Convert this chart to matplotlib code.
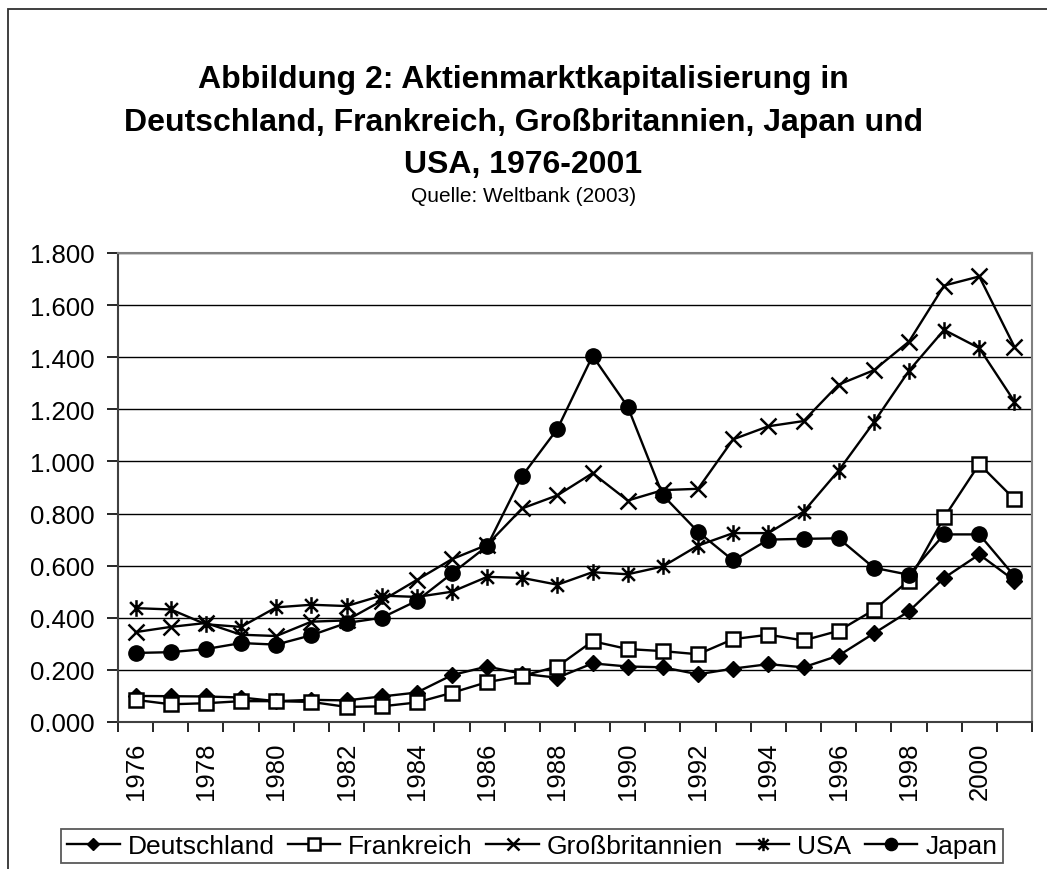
import matplotlib
matplotlib.use("Agg")
import matplotlib.pyplot as plt
import numpy as np
from matplotlib.path import Path
from matplotlib.patches import Rectangle
from matplotlib.ticker import FixedLocator, NullFormatter, FuncFormatter

plt.rcParams['font.family'] = ['Liberation Sans', 'DejaVu Sans']

years = list(range(1976, 2002))
deutschland = [0.100, 0.099, 0.098, 0.094, 0.080, 0.085, 0.083, 0.098, 0.113, 0.180,
               0.213, 0.185, 0.170, 0.225, 0.213, 0.210, 0.183, 0.205, 0.222, 0.210,
               0.255, 0.340, 0.425, 0.553, 0.643, 0.543]
frankreich = [0.085, 0.068, 0.072, 0.080, 0.080, 0.077, 0.058, 0.060, 0.075, 0.112,
              0.153, 0.177, 0.213, 0.310, 0.280, 0.272, 0.260, 0.318, 0.335, 0.313,
              0.350, 0.430, 0.543, 0.785, 0.990, 0.855]
grossbritannien = [0.345, 0.365, 0.380, 0.335, 0.330, 0.385, 0.390, 0.465, 0.545, 0.625,
                   0.680, 0.820, 0.870, 0.955, 0.850, 0.890, 0.895, 1.085, 1.135, 1.155,
                   1.295, 1.350, 1.460, 1.675, 1.710, 1.440]
usa = [0.437, 0.432, 0.375, 0.365, 0.440, 0.450, 0.445, 0.485, 0.480, 0.500,
       0.557, 0.553, 0.527, 0.575, 0.567, 0.597, 0.677, 0.725, 0.725, 0.807,
       0.965, 1.150, 1.348, 1.505, 1.435, 1.230]
japan = [0.265, 0.268, 0.280, 0.303, 0.297, 0.333, 0.380, 0.400, 0.465, 0.570,
         0.675, 0.945, 1.125, 1.405, 1.210, 0.870, 0.730, 0.620, 0.700, 0.703,
         0.705, 0.592, 0.565, 0.720, 0.720, 0.560]

# excel-style star: x with a vertical bar
star = Path([(-1, -1), (1, 1), (-1, 1), (1, -1), (0, -1.3), (0, 1.3)],
            [Path.MOVETO, Path.LINETO, Path.MOVETO, Path.LINETO, Path.MOVETO, Path.LINETO])

fig = plt.figure(figsize=(10.47, 8.70), dpi=100)
# chart-area border (only left and top visible in the crop)
fig.patches.append(Rectangle((8/1047, -0.1), 1.1, 1.1 - 10/870, transform=fig.transFigure,
                             fill=False, edgecolor='#303030', linewidth=1.3))
ax = fig.add_axes([118/1047, 1 - 723/870, 914/1047, 469/870])

x = np.arange(len(years))
lw = 1.7
ax.plot(x, deutschland, color='black', lw=lw, marker='D', ms=8, mfc='black', label='Deutschland')
ax.plot(x, frankreich, color='black', lw=lw, marker='s', ms=10, mfc='white', mew=1.8, label='Frankreich')
ax.plot(x, grossbritannien, color='black', lw=lw, marker='x', ms=11, mew=1.8, label='Großbritannien')
ax.plot(x, usa, color='black', lw=lw, marker=star, ms=12, mew=1.8, label='USA')
ax.plot(x, japan, color='black', lw=lw, marker='o', ms=11, mfc='black', label='Japan')

ax.set_xlim(-0.5, len(years) - 0.5)
ax.set_ylim(0, 1.8)
ax.set_yticks(np.arange(0, 1.81, 0.2))
ax.yaxis.set_major_formatter(FuncFormatter(lambda v, p: f"{v:.3f}"))
ax.grid(axis='y', color='black', lw=1.0)
ax.set_axisbelow(True)

ax.xaxis.set_major_locator(FixedLocator(np.arange(-0.5, len(years), 1.0)))
ax.xaxis.set_major_formatter(NullFormatter())
ax.xaxis.set_minor_locator(FixedLocator(x[::2]))
ax.set_xticklabels([str(y) for y in years[::2]], minor=True, rotation=90)
ax.tick_params(axis='x', which='major', length=7, width=1.2, direction='out')
ax.tick_params(axis='x', which='minor', length=0, pad=14, labelsize=18.5)
ax.tick_params(axis='y', length=8, width=1.2, labelsize=18.5, pad=9)

for s in ['top', 'right']:
    ax.spines[s].set_color('#808080')
    ax.spines[s].set_linewidth(1.5)
ax.spines['left'].set_color('#404040')
ax.spines['bottom'].set_color('#404040')
ax.spines['left'].set_linewidth(1.5)
ax.spines['bottom'].set_linewidth(1.5)

fig.text(0.5, 1 - 80/870, "Abbildung 2: Aktienmarktkapitalisierung in", ha='center', va='center',
         fontsize=23, fontweight='bold')
fig.text(0.5, 1 - 123/870, "Deutschland, Frankreich, Großbritannien, Japan und", ha='center', va='center',
         fontsize=23, fontweight='bold')
fig.text(0.5, 1 - 165/870, "USA, 1976-2001", ha='center', va='center',
         fontsize=23, fontweight='bold')
fig.text(0.5, 1 - 196/870, "Quelle: Weltbank (2003)", ha='center', va='center', fontsize=15)

leg = fig.legend(loc='center', bbox_to_anchor=(532/1047, 1 - 847/870), ncol=5, fontsize=19,
                 frameon=True, fancybox=False, edgecolor='#303030', handlelength=2.0,
                 handletextpad=0.3, columnspacing=0.5, borderpad=0.2, borderaxespad=0,
                 markerscale=0.8)
leg.get_frame().set_linewidth(1.3)

fig.savefig("out.png", dpi=100)
